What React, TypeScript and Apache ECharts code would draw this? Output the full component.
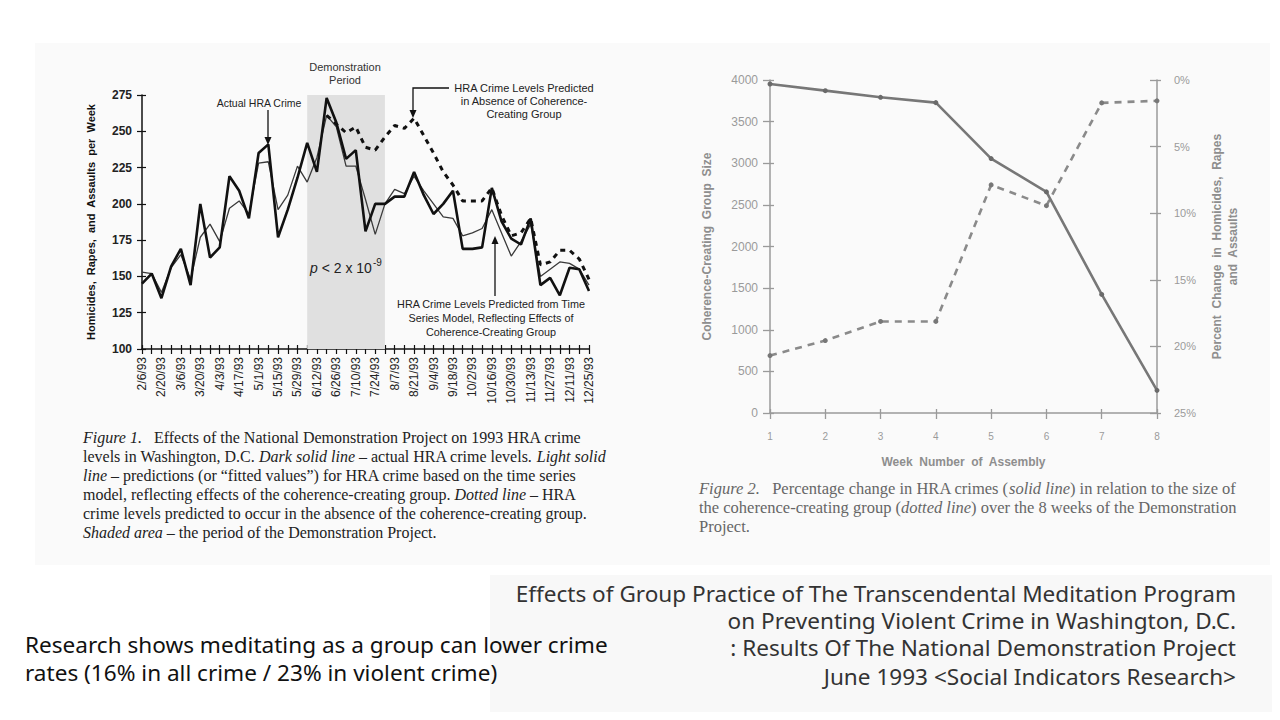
import React, { useEffect, useRef } from 'react';
import * as echarts from 'echarts';

// ---------- Figure 1 data (weekly HRA crime, 1993) ----------
const weekDates = [
  '2/6/93', '2/13/93', '2/20/93', '2/27/93', '3/6/93', '3/13/93', '3/20/93', '3/27/93',
  '4/3/93', '4/10/93', '4/17/93', '4/24/93', '5/1/93', '5/8/93', '5/15/93', '5/22/93',
  '5/29/93', '6/5/93', '6/12/93', '6/19/93', '6/26/93', '7/3/93', '7/10/93', '7/17/93',
  '7/24/93', '7/31/93', '8/7/93', '8/14/93', '8/21/93', '8/28/93', '9/4/93', '9/11/93',
  '9/18/93', '9/25/93', '10/2/93', '10/9/93', '10/16/93', '10/23/93', '10/30/93', '11/6/93',
  '11/13/93', '11/20/93', '11/27/93', '12/4/93', '12/11/93', '12/18/93', '12/25/93',
];
const actualCrime = [
  145, 152, 135, 157, 169, 144, 200, 163, 170, 219, 209, 190, 235, 241, 177, 196,
  218, 242, 222, 273, 256, 231, 237, 181, 200, 200, 205, 205, 222, 206, 193, 200,
  209, 169, 169, 170, 211, 188, 176, 172, 190, 144, 149, 137, 156, 155, 140,
];
const fittedCrime = [
  153, 152, 139, 156, 165, 148, 177, 186, 174, 197, 202, 193, 228, 229, 196, 206,
  226, 215, 232, 261, 253, 226, 226, 203, 179, 200, 210, 207, 219, 209, 200, 191,
  190, 178, 180, 183, 196, 180, 164, 174, 186, 150, 155, 160, 159, 155, 144,
];
const noGroupCrime = [
  null, null, null, null, null, null, null, null, null, null, null, null, null, null, null, null,
  null, null, null, 261, 255, 249, 253, 239, 237, 246, 254, 252, 259, 247, 235, 222,
  213, 202, 202, 202, 211, 192, 178, 180, 190, 158, 160, 168, 168, 162, 148,
];
const demoStart = '6/5/93';
const demoEnd = '7/31/93';

// ---------- Figure 2 data ----------
const assemblyWeeks = ['1', '2', '3', '4', '5', '6', '7', '8'];
const groupSize = [690, 870, 1100, 1100, 2740, 2490, 3725, 3750];
const pctChange = [0.3, 0.8, 1.3, 1.7, 5.9, 8.4, 16.1, 23.3];

const SANS = 'Liberation Sans';
const SERIF = 'Liberation Serif';
const NOTO = 'Noto Sans';

function txt(x: number, y: number, text: string, o: any = {}) {
  return {
    type: 'text',
    x,
    y,
    z: 20,
    scaleX: o.scaleX || 1,
    silent: true,
    style: {
      text,
      fontFamily: o.fontFamily || SANS,
      fontSize: o.fontSize || 10,
      fontStyle: o.fontStyle || 'normal',
      fontWeight: o.fontWeight || 'normal',
      fill: o.fill || '#222',
      align: o.align || 'left',
      verticalAlign: 'middle',
      rich: o.rich,
    },
  };
}

function arrowDown(x: number, y1: number, y2: number) {
  return [
    { type: 'line', z: 20, silent: true, shape: { x1: x, y1, x2: x, y2: y2 - 6 }, style: { stroke: '#111', lineWidth: 1.3 } },
    { type: 'polygon', z: 20, silent: true, shape: { points: [[x - 3.5, y2 - 8], [x + 3.5, y2 - 8], [x, y2]] }, style: { fill: '#111' } },
  ];
}
function arrowUp(x: number, y1: number, y2: number) {
  return [
    { type: 'line', z: 20, silent: true, shape: { x1: x, y1, x2: x, y2: y2 + 6 }, style: { stroke: '#111', lineWidth: 1.3 } },
    { type: 'polygon', z: 20, silent: true, shape: { points: [[x - 3.5, y2 + 8], [x + 3.5, y2 + 8], [x, y2]] }, style: { fill: '#111' } },
  ];
}

export default function App() {
  const ref = useRef<HTMLDivElement>(null);
  useEffect(() => {
    const chart = echarts.init(ref.current!, null, { renderer: 'svg' });
    const capRich = (fill: string, size: number) => ({
      i: { fontStyle: 'italic', fontFamily: SERIF, fontSize: size, fill },
    });
    const cap1 = (y: number, s: string) =>
      txt(83, y, s, { fontFamily: SERIF, fontSize: 16, fill: '#222', rich: capRich('#222', 16) });
    const cap2 = (y: number, s: string) =>
      txt(699, y, s, { fontFamily: SERIF, fontSize: 16.5, fill: '#666', rich: capRich('#666', 16.5) });
    const big = (x: number, y: number, s: string, fill: string, align: string) =>
      txt(x, y, s, { fontFamily: NOTO, fontSize: 21, scaleX: 1.075, fill, align });
    const leftAxisText = { fontFamily: SANS, color: '#222' };
    const grayAxis = '#9a9a9a';

    const option: any = {
      animation: false,
      backgroundColor: '#ffffff',
      grid: [
        { left: 142, top: 95, width: 447, height: 254 },
        { left: 770, top: 80, width: 387, height: 333 },
      ],
      xAxis: [
        {
          gridIndex: 0, type: 'category', data: weekDates, boundaryGap: false, position: 'bottom',
          axisLine: { onZero: false, lineStyle: { color: '#111', width: 1.5 } },
          axisTick: { interval: 0, length: 5, lineStyle: { color: '#111', width: 1.2 } },
          axisLabel: { interval: 1, rotate: 90, fontSize: 12, margin: 8, ...leftAxisText },
          splitLine: { show: false },
        },
        {
          gridIndex: 0, type: 'category', data: weekDates, boundaryGap: false, position: 'bottom',
          axisLine: { show: false, onZero: false },
          axisTick: { interval: 0, inside: true, length: 4, lineStyle: { color: '#111', width: 1.2 } },
          axisLabel: { show: false }, splitLine: { show: false },
        },
        {
          gridIndex: 1, type: 'category', data: assemblyWeeks, boundaryGap: false, position: 'bottom',
          axisLine: { onZero: false, lineStyle: { color: grayAxis, width: 1.5 } },
          axisTick: { length: 6, lineStyle: { color: grayAxis, width: 1.3 } },
          axisLabel: { color: grayAxis, fontSize: 10, margin: 18, fontFamily: SANS },
          name: 'Week  Number  of  Assembly', nameLocation: 'middle', nameGap: 43,
          nameTextStyle: { color: '#8e8e8e', fontSize: 12, fontWeight: 'bold', fontFamily: SANS },
          splitLine: { show: false },
        },
        {
          gridIndex: 1, type: 'category', data: assemblyWeeks, boundaryGap: false, position: 'bottom',
          axisLine: { show: false, onZero: false },
          axisTick: { inside: true, length: 4, lineStyle: { color: grayAxis, width: 1.3 } },
          axisLabel: { show: false }, splitLine: { show: false },
        },
      ],
      yAxis: [
        {
          gridIndex: 0, type: 'value', min: 100, max: 275, interval: 25, position: 'left',
          axisLine: { show: true, onZero: false, lineStyle: { color: '#111', width: 1.5 } },
          axisTick: { show: true, length: 5, lineStyle: { color: '#111', width: 1.2 } },
          axisLabel: { fontSize: 12, fontWeight: 'bold', margin: 10, ...leftAxisText },
          splitLine: { show: false },
          name: 'Homicides,  Rapes,  and  Assaults  per  Week', nameLocation: 'middle', nameGap: 46,
          nameTextStyle: { fontSize: 11, fontWeight: 'bold', color: '#111', fontFamily: SANS },
        },
        {
          gridIndex: 0, type: 'value', min: 100, max: 275, interval: 25, position: 'left',
          axisLine: { show: false, onZero: false },
          axisTick: { show: true, inside: true, length: 4, lineStyle: { color: '#111', width: 1.2 } },
          axisLabel: { show: false }, splitLine: { show: false },
        },
        {
          gridIndex: 1, type: 'value', min: 0, max: 4000, interval: 500, position: 'left',
          axisLine: { show: true, onZero: false, lineStyle: { color: grayAxis, width: 1.5 } },
          axisTick: { show: true, length: 7, lineStyle: { color: grayAxis, width: 1.3 } },
          axisLabel: { color: grayAxis, fontSize: 12, margin: 12, fontFamily: SANS, formatter: (v: number) => String(v) },
          splitLine: { show: false },
          name: 'Coherence-Creating  Group  Size', nameLocation: 'middle', nameGap: 57,
          nameTextStyle: { color: '#8e8e8e', fontSize: 12, fontWeight: 'bold', fontFamily: SANS },
        },
        {
          gridIndex: 1, type: 'value', min: 0, max: 25, interval: 5, inverse: true, position: 'right',
          axisLine: { show: true, onZero: false, lineStyle: { color: grayAxis, width: 1.5 } },
          axisTick: { show: true, length: 4, lineStyle: { color: grayAxis, width: 1.3 } },
          axisLabel: { color: grayAxis, fontSize: 11, margin: 17, fontFamily: SANS, formatter: (v: number) => v + '%' },
          splitLine: { show: false },
          name: 'Percent  Change  in  Homicides,  Rapes\nand  Assaults', nameLocation: 'middle', nameGap: 52,
          nameTextStyle: { color: '#8e8e8e', fontSize: 12, fontWeight: 'bold', fontFamily: SANS, lineHeight: 16 },
        },
        {
          gridIndex: 1, type: 'value', min: 0, max: 4000, interval: 500, position: 'left',
          axisLine: { show: false, onZero: false },
          axisTick: { show: true, inside: true, length: 4, lineStyle: { color: grayAxis, width: 1.3 } },
          axisLabel: { show: false }, splitLine: { show: false },
        },
        {
          gridIndex: 1, type: 'value', min: 0, max: 25, interval: 5, inverse: true, position: 'right',
          axisLine: { show: false, onZero: false },
          axisTick: { show: true, inside: true, length: 7, lineStyle: { color: grayAxis, width: 1.3 } },
          axisLabel: { show: false }, splitLine: { show: false },
        },
      ],
      series: [
        {
          name: 'Fitted', type: 'line', xAxisIndex: 0, yAxisIndex: 0, data: fittedCrime,
          symbol: 'none', lineStyle: { color: '#3a3a3a', width: 1.3 }, z: 3,
        },
        {
          name: 'Actual', type: 'line', xAxisIndex: 0, yAxisIndex: 0, data: actualCrime,
          symbol: 'none', lineStyle: { color: '#111', width: 2.6 }, z: 4, clip: false,
          markArea: {
            silent: true,
            itemStyle: { color: '#e0e0e0' },
            data: [[{ xAxis: demoStart, yAxis: 280 }, { xAxis: demoEnd, yAxis: 100 }]],
          },
        },
        {
          name: 'No group', type: 'line', xAxisIndex: 0, yAxisIndex: 0, data: noGroupCrime,
          symbol: 'none', lineStyle: { color: '#111', width: 3, type: [5, 5] }, z: 3,
        },
        {
          name: 'Group size', type: 'line', xAxisIndex: 2, yAxisIndex: 2, data: groupSize,
          symbol: 'circle', symbolSize: 5, showSymbol: true,
          lineStyle: { color: '#8a8a8a', width: 2.6, type: [7, 6] }, itemStyle: { color: '#777' }, z: 3,
        },
        {
          name: 'Percent change', type: 'line', xAxisIndex: 2, yAxisIndex: 3, data: pctChange,
          symbol: 'circle', symbolSize: 5, showSymbol: true,
          lineStyle: { color: '#777', width: 2.6 }, itemStyle: { color: '#6a6a6a' }, z: 4,
        },
      ],
      graphic: [
        { type: 'rect', z: -5, silent: true, shape: { x: 35, y: 43, width: 1235, height: 522 }, style: { fill: '#fafafa' } },
        { type: 'rect', z: -5, silent: true, shape: { x: 490, y: 575, width: 782, height: 137 }, style: { fill: '#f8f8f8' } },

        // Figure 1 annotations
        txt(345, 67, 'Demonstration', { align: 'center', fontSize: 11, fill: '#333' }),
        txt(345, 80, 'Period', { align: 'center', fontSize: 11, fill: '#333' }),
        txt(259, 103, 'Actual HRA Crime', { align: 'center', fontSize: 10.5, fill: '#222' }),
        ...arrowDown(268, 110, 145),
        txt(524, 88, 'HRA Crime Levels Predicted', { align: 'center', fontSize: 11, fill: '#222' }),
        txt(524, 101, 'in Absence of Coherence-', { align: 'center', fontSize: 11, fill: '#222' }),
        txt(524, 114, 'Creating Group', { align: 'center', fontSize: 11, fill: '#222' }),
        { type: 'polyline', z: 20, silent: true, shape: { points: [[449, 88], [413, 88], [413, 112]] }, style: { stroke: '#111', lineWidth: 1.3, fill: null } },
        { type: 'polygon', z: 20, silent: true, shape: { points: [[409.5, 110], [416.5, 110], [413, 118]] }, style: { fill: '#111' } },
        txt(491, 304, 'HRA Crime Levels Predicted from Time', { align: 'center', fontSize: 10.8, fill: '#222' }),
        txt(491, 318, 'Series Model, Reflecting Effects of', { align: 'center', fontSize: 10.8, fill: '#222' }),
        txt(491, 332, 'Coherence-Creating Group', { align: 'center', fontSize: 10.8, fill: '#222' }),
        ...arrowUp(495, 296, 236),
        txt(310, 268, '{p|p} < 2 x 10', {
          fontSize: 14, fill: '#222',
          rich: { p: { fontStyle: 'italic', fontFamily: SANS, fontSize: 14, fill: '#222' } },
        }),
        txt(373, 262, '-9', { fontSize: 10, fill: '#222' }),

        // Figure 1 caption
        cap1(437, '{i|Figure 1.}   Effects of the National Demonstration Project on 1993 HRA crime'),
        cap1(456, 'levels in Washington, D.C. {i|Dark solid line} – actual HRA crime levels. {i|Light solid}'),
        cap1(475, '{i|line} – predictions (or “fitted values”) for HRA crime based on the time series'),
        cap1(494, 'model, reflecting effects of the coherence-creating group. {i|Dotted line} – HRA'),
        cap1(513, 'crime levels predicted to occur in the absence of the coherence-creating group.'),
        cap1(532, '{i|Shaded area} – the period of the Demonstration Project.'),

        // Figure 2 caption
        cap2(488, '{i|Figure 2.}   Percentage change in HRA crimes ({i|solid line}) in relation to the size of'),
        cap2(507, 'the coherence-creating group ({i|dotted line}) over the 8 weeks of the Demonstration'),
        cap2(526, 'Project.'),

        // bottom texts
        big(25, 645, 'Research shows meditating as a group can lower crime', '#111', 'left'),
        big(25, 673, 'rates (16% in all crime / 23% in violent crime)', '#111', 'left'),
        big(1236, 594, 'Effects of Group Practice of The Transcendental Meditation Program', '#333', 'right'),
        big(1236, 621, 'on Preventing Violent Crime in Washington, D.C.', '#333', 'right'),
        big(1236, 648, ': Results Of The National Demonstration Project', '#333', 'right'),
        big(1236, 677, 'June 1993 <Social Indicators Research>', '#333', 'right'),
      ],
    };
    chart.setOption(option);
    return () => chart.dispose();
  }, []);
  return <div ref={ref} style={{ position: 'absolute', left: 0, top: 0, width: 1280, height: 720 }} />;
}
